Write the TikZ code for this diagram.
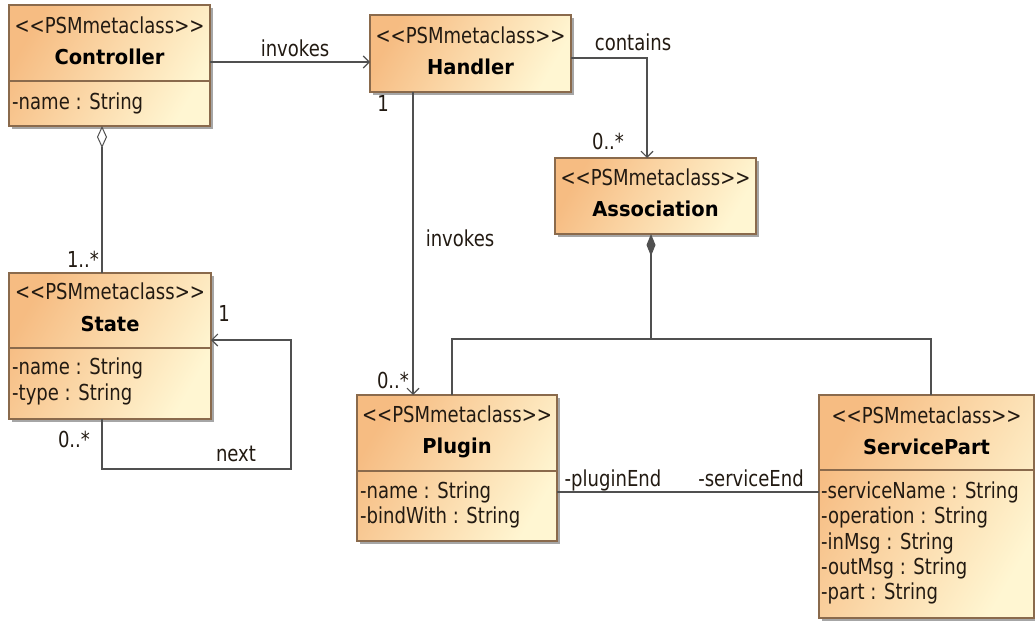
\documentclass[tikz,border=0pt]{standalone}
\usepackage{fontspec}
\setmainfont{DejaVu Sans}[FakeStretch=0.82, BoldFeatures={FakeStretch=0.95}]
\usetikzlibrary{arrows.meta,shadows}
\definecolor{boxorange}{HTML}{F6BC82}
\definecolor{boxmid}{HTML}{FBD9AA}
\definecolor{boxpale}{HTML}{FFF6D2}
\definecolor{boxline}{HTML}{8A6A4C}
\definecolor{wire}{HTML}{505050}
\definecolor{ink}{HTML}{221A12}

% stereotype text with plain angle brackets
\newcommand{\stereotext}[1]{<\kern0pt<#1>\kern0pt>}

\tikzset{
  classbox/.style={draw=boxline, line width=1.1pt, inner sep=0pt, outer sep=0pt,
    anchor=north west, top color=boxorange, bottom color=boxpale, middle color=boxmid,
    shading angle=60,
    drop shadow={shadow xshift=3pt, shadow yshift=-3pt, fill=black!50, opacity=0.7}},
  sepline/.style={draw=boxline, line width=1.1pt},
  txt/.style={font=\fontsize{22}{26}\selectfont, text=ink, inner sep=0pt,
    text height=16pt, text depth=4pt},
  stereo/.style={txt},
  cname/.style={txt, font=\fontsize{20.5}{24}\selectfont\bfseries, text=black},
  attr/.style={txt, anchor=west},
  lbl/.style={txt},
  wire/.style={draw=wire, line width=1.2pt},
  navig/.style={wire, -{Straight Barb[length=6pt,width=12pt,line width=1.1pt]}},
  aggr/.style={wire, {Diamond[open,length=22pt,width=10pt,line width=1pt,fill=white]}-},
  comp/.style={wire, {Diamond[length=22pt,width=9pt,fill=wire]}-}
}

\begin{document}
\begin{tikzpicture}[x=1pt,y=-1pt]
  \useasboundingbox (0,0) rectangle (1035,621);

  % ---- class boxes ----
  \node[classbox, minimum width=201pt, minimum height=121pt] (ctrl) at (9,5) {};
  \draw[sepline] (ctrl.west |- 0,81) -- (ctrl.east |- 0,81);
  \node[stereo] (ctrl-st) at (ctrl.north |- 0,27) {\stereotext{PSMmetaclass}};
  \node[cname] (ctrl-nm) at (ctrl.north |- 0,58) {Controller};
  \node[attr] (ctrl-a1) at (12,103) {-name : String};

  \node[classbox, minimum width=201pt, minimum height=77pt] (hdl) at (370,15) {};
  \node[stereo] (hdl-st) at (hdl.north |- 0,37) {\stereotext{PSMmetaclass}};
  \node[cname] (hdl-nm) at (hdl.north |- 0,68) {Handler};

  \node[classbox, minimum width=201pt, minimum height=76pt] (asc) at (555,158) {};
  \node[stereo] (asc-st) at (asc.north |- 0,179) {\stereotext{PSMmetaclass}};
  \node[cname] (asc-nm) at (asc.north |- 0,210) {Association};

  \node[classbox, minimum width=202pt, minimum height=146pt] (st) at (9,273) {};
  \draw[sepline] (st.west |- 0,348) -- (st.east |- 0,348);
  \node[stereo] (st-st) at (st.north |- 0,293) {\stereotext{PSMmetaclass}};
  \node[cname] (st-nm) at (st.north |- 0,325) {State};
  \node[attr] (st-a1) at (12,368) {-name : String};
  \node[attr] (st-a2) at (12,394) {-type : String};

  \node[classbox, minimum width=200pt, minimum height=146pt] (plg) at (357,395) {};
  \draw[sepline] (plg.west |- 0,471) -- (plg.east |- 0,471);
  \node[stereo] (plg-st) at (plg.north |- 0,416) {\stereotext{PSMmetaclass}};
  \node[cname] (plg-nm) at (plg.north |- 0,447) {Plugin};
  \node[attr] (plg-a1) at (360,492) {-name : String};
  \node[attr] (plg-a2) at (360,517) {-bindWith : String};

  \node[classbox, minimum width=215pt, minimum height=223pt] (sp) at (819,395) {};
  \draw[sepline] (sp.west |- 0,470) -- (sp.east |- 0,470);
  \node[stereo] (sp-st) at (sp.north |- 0,417) {\stereotext{PSMmetaclass}};
  \node[cname] (sp-nm) at (sp.north |- 0,448) {ServicePart};
  \node[attr] (sp-a1) at (821,492) {-serviceName : String};
  \node[attr] (sp-a2) at (821,517) {-operation : String};
  \node[attr] (sp-a3) at (821,543) {-inMsg : String};
  \node[attr] (sp-a4) at (821,568) {-outMsg : String};
  \node[attr] (sp-a5) at (821,593) {-part : String};

  % ---- connectors ----
  % Controller invokes Handler
  \draw[navig] (ctrl.east |- 0,62) -- (hdl.west |- 0,62);
  \node[lbl] (l-inv1) at (295,50) {invokes};

  % Handler contains Association
  \draw[navig] (hdl.east |- 0,58) -| (asc.north -| 647,0);
  \node[lbl] (l-cont) at (633,44) {contains};
  \node[lbl] (l-cont-m) at (608,143) {0..*};

  % Handler invokes Plugin
  \draw[navig] (hdl.south -| 413,0) -- (plg.north -| 413,0);
  \node[lbl] (l-inv2-a) at (383,105) {1};
  \node[lbl] (l-inv2) at (460,240) {invokes};
  \node[lbl] (l-inv2-b) at (393,382) {0..*};

  % Controller aggregates State
  \draw[aggr] (ctrl.south -| 102,0) -- (st.north -| 102,0);
  \node[lbl] (l-agg) at (83,261) {1..*};

  % State next (self association)
  \coordinate (lp1) at (102,469);
  \coordinate (lp2) at (291,469);
  \coordinate (lp3) at (291,340);
  \draw[navig] (st.south -| lp1) -- (lp1) -- (lp2) -- (lp3) -- (st.east |- lp3);
  \node[lbl] (l-next-a) at (224,315) {1};
  \node[lbl] (l-next-b) at (74,441) {0..*};
  \node[lbl] (l-next) at (236,455) {next};

  % Association composed of Plugin and ServicePart
  \coordinate (jn) at (651,339);
  \draw[comp] (asc.south -| jn) -- (jn);
  \draw[wire] (plg.north -| 452,0) |- (jn) -| (sp.north -| 931,0);

  % Plugin -- ServicePart
  \draw[wire] (plg.east |- 0,492) -- (sp.west |- 0,492);
  \node[lbl] (l-pe) at (613,480) {-pluginEnd};
  \node[lbl] (l-se) at (751,480) {-serviceEnd};
\end{tikzpicture}
\end{document}
